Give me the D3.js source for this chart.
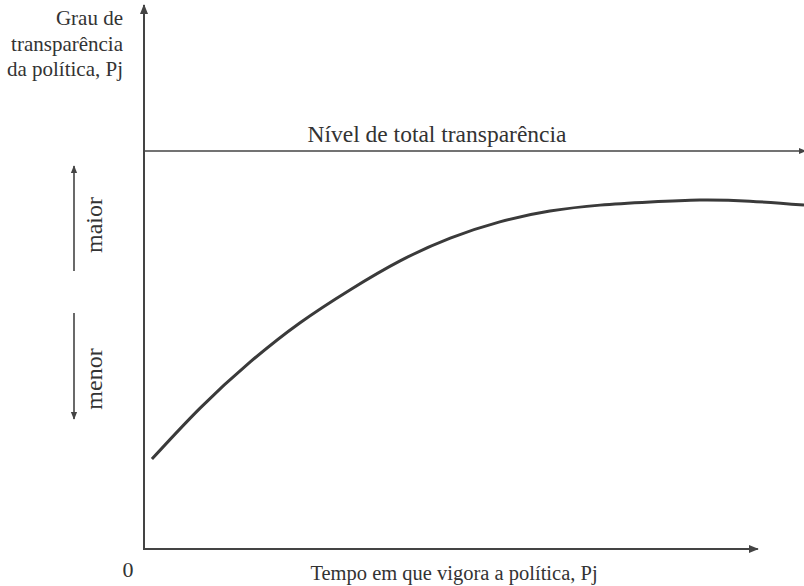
<!DOCTYPE html>
<html>
<head>
<meta charset="utf-8">
<script src="https://cdn.jsdelivr.net/npm/d3@7"></script>
<style>
  body { margin: 0; background: #fff; }
</style>
</head>
<body>
<svg id="chart" width="804" height="586" font-family="'Liberation Serif', 'Times New Roman', Times, serif"></svg>
<script>
// tempo (0-100) e grau de transparência (0-100, 100 = total transparência)
const tempo = [1.2, 8.5, 16.1, 23.6, 31.2, 38.8, 46.4, 53.9, 61.5, 69.1, 76.7, 84.2, 91.8, 100];
const grau  = [22.6, 35.4, 47.0, 56.8, 65.1, 72.4, 78.1, 82.2, 84.9, 86.4, 87.2, 87.7, 87.4, 86.4];
const nivelTotal = 100;
const yLabel = ["Grau de", "transparência", "da política, Pj"];
const xLabel = "Tempo em que vigora a política, Pj";
const nivelLabel = "Nível de total transparência";

const svg = d3.select("#chart");
const stroke = "#444";
const textColor = "#333";

const x = d3.scaleLinear().domain([0, 100]).range([144, 804]);
const y = d3.scaleLinear().domain([0, 100]).range([549, 151]);

// arrow marker
const defs = svg.append("defs");
defs.append("marker")
  .attr("id", "arrow")
  .attr("viewBox", "0 0 10 10")
  .attr("refX", 9).attr("refY", 5)
  .attr("markerWidth", 5).attr("markerHeight", 5)
  .attr("markerUnits", "strokeWidth")
  .attr("orient", "auto")
  .append("path")
  .attr("d", "M0,1 L10,5 L0,9 Z")
  .attr("fill", stroke);

// axes
svg.append("line")
  .attr("x1", x(0)).attr("y1", y(0))
  .attr("x2", x(0)).attr("y2", 5)
  .attr("stroke", stroke).attr("stroke-width", 2)
  .attr("marker-end", "url(#arrow)");

svg.append("line")
  .attr("x1", x(0) - 1).attr("y1", y(0))
  .attr("x2", x(93)).attr("y2", y(0))
  .attr("stroke", stroke).attr("stroke-width", 2)
  .attr("marker-end", "url(#arrow)");

// total transparency level
svg.append("line")
  .attr("x1", x(0)).attr("y1", y(nivelTotal))
  .attr("x2", x(100) + 2).attr("y2", y(nivelTotal))
  .attr("stroke", stroke).attr("stroke-width", 1.6)
  .attr("marker-end", "url(#arrow)");

svg.append("text")
  .attr("x", 437).attr("y", y(nivelTotal) - 9)
  .attr("text-anchor", "middle")
  .attr("fill", textColor)
  .style("font-size", "23.5px")
  .text(nivelLabel);

// curve
const pts = tempo.map((t, i) => [t, grau[i]]);
svg.append("path")
  .datum(pts)
  .attr("fill", "none")
  .attr("stroke", "#3a3a3a")
  .attr("stroke-width", 3)
  .attr("d", d3.line()
    .curve(d3.curveNatural)
    .x(d => x(d[0]))
    .y(d => y(d[1])));

// labels
svg.append("text")
  .attr("x", 128).attr("y", 577)
  .attr("text-anchor", "middle")
  .attr("fill", textColor)
  .style("font-size", "22px")
  .text("0");

svg.append("text")
  .attr("x", 454).attr("y", 580)
  .attr("text-anchor", "middle")
  .attr("fill", textColor)
  .style("font-size", "20.5px")
  .text(xLabel);

svg.append("g")
  .selectAll("text")
  .data(yLabel)
  .join("text")
  .attr("x", 123)
  .attr("y", (d, i) => 25 + i * 25.5)
  .attr("text-anchor", "end")
  .attr("fill", textColor)
  .style("font-size", "21px")
  .text(d => d);

// maior / menor
svg.append("line")
  .attr("x1", 74).attr("y1", 271).attr("x2", 74).attr("y2", 166)
  .attr("stroke", stroke).attr("stroke-width", 1.6)
  .attr("marker-end", "url(#arrow)");
svg.append("line")
  .attr("x1", 74).attr("y1", 313).attr("x2", 74).attr("y2", 419)
  .attr("stroke", stroke).attr("stroke-width", 1.6)
  .attr("marker-end", "url(#arrow)");

svg.append("text")
  .attr("transform", "translate(102,225) rotate(-90)")
  .attr("text-anchor", "middle")
  .attr("fill", textColor)
  .style("font-size", "24px")
  .text("maior");
svg.append("text")
  .attr("transform", "translate(102,379) rotate(-90)")
  .attr("text-anchor", "middle")
  .attr("fill", textColor)
  .style("font-size", "24px")
  .text("menor");
</script>
</body>
</html>
